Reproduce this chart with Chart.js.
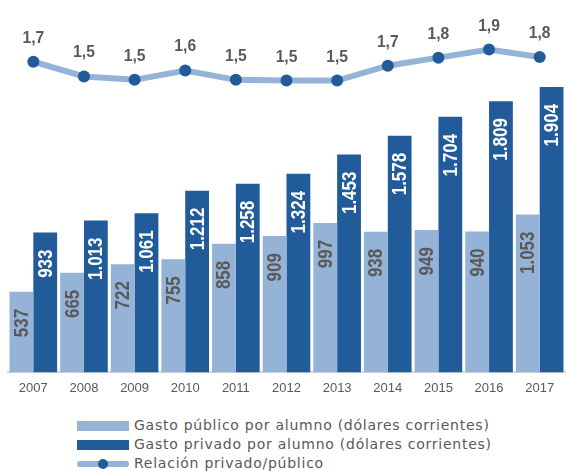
<!DOCTYPE html>
<html>
<head>
<meta charset="utf-8">
<script src="https://cdn.jsdelivr.net/npm/chart.js@4/dist/chart.umd.min.js"></script>
<style>
  html, body { margin: 0; padding: 0; background: #fff; overflow: hidden; width: 567px; height: 471px; }
  #wrap { position: absolute; left: 0; top: 0; width: 571px; height: 403px; }
  .legend { position: absolute; left: 77px; top: 416px; font-family: 'DejaVu Sans', sans-serif; font-size: 14px; letter-spacing: 0.75px; color: #595959; }
  .row { position: relative; height: 19px; line-height: 19px; white-space: nowrap; }
  .sw { position: absolute; left: 0; width: 52px; }
  .txt { position: absolute; left: 57px; top: 0; }
</style>
</head>
<body>
<div id="wrap"><canvas id="chart" width="571" height="403"></canvas></div>
<div class="legend">
  <div class="row"><div class="sw" style="top:5px;height:10px;background:#95b3d7"></div><span class="txt">Gasto público por alumno (dólares corrientes)</span></div>
  <div class="row"><div class="sw" style="top:5px;height:10px;background:#225b99"></div><span class="txt">Gasto privado por alumno (dólares corrientes)</span></div>
  <div class="row"><div class="sw" style="top:7px;height:6px;background:#95b3d7;border-radius:3px"></div><div style="position:absolute;left:21px;top:5px;width:10px;height:10px;border-radius:5px;background:#225b99"></div><span class="txt">Relación privado/público</span></div>
</div>
<script>
const years = ['2007', '2008', '2009', '2010', '2011', '2012', '2013', '2014', '2015', '2016', '2017'];
const gastoPublico = [537, 665, 722, 755, 858, 909, 997, 938, 949, 940, 1053];
const gastoPrivado = [933, 1013, 1061, 1212, 1258, 1324, 1453, 1578, 1704, 1809, 1904];
const relacion = [1.74, 1.52, 1.47, 1.61, 1.47, 1.46, 1.46, 1.68, 1.80, 1.92, 1.81];

const LIGHT = '#95b3d7';
const DARK = '#225b99';
const GREY = '#595959';

function fmtMiles(v) {
    if (v < 1000) return String(v);
    const r = String(v % 1000).padStart(3, '0');
    return Math.floor(v / 1000) + '.' + r;
}

const labelPlugin = {
    id: 'labels',
    afterDatasetsDraw(chart) {
        const ctx = chart.ctx;
        [0, 1].forEach(i => {
            const meta = chart.getDatasetMeta(i);
            const vals = chart.data.datasets[i].data;
            meta.data.forEach((bar, j) => {
                ctx.save();
                ctx.translate(bar.x, bar.y + 17);
                ctx.rotate(-Math.PI / 2);
                ctx.scale(0.85, 1);
                ctx.font = 'bold 20px "Liberation Sans", Arial, sans-serif';
                ctx.fillStyle = i === 0 ? GREY : '#ffffff';
                ctx.textAlign = 'right';
                ctx.textBaseline = 'middle';
                ctx.fillText(fmtMiles(vals[j]), 0, 1);
                ctx.restore();
            });
        });
        const lm = chart.getDatasetMeta(2);
        lm.data.forEach((pt, j) => {
            ctx.save();
            ctx.translate(pt.x, pt.y - 19);
            ctx.scale(0.92, 1);
            ctx.font = 'bold 17px "Liberation Sans", Arial, sans-serif';
            ctx.fillStyle = GREY;
            ctx.textAlign = 'center';
            ctx.textBaseline = 'alphabetic';
            ctx.fillText(relacion[j].toFixed(1).replace('.', ','), 0, 0);
            ctx.restore();
        });
    }
};

new Chart(document.getElementById('chart'), {
    type: 'bar',
    data: {
        labels: years,
        datasets: [
            {
                label: 'Gasto público por alumno (dólares corrientes)',
                data: gastoPublico,
                backgroundColor: LIGHT,
                yAxisID: 'y',
                categoryPercentage: 0.94,
                barPercentage: 1,
                order: 2
            },
            {
                label: 'Gasto privado por alumno (dólares corrientes)',
                data: gastoPrivado,
                backgroundColor: DARK,
                yAxisID: 'y',
                categoryPercentage: 0.94,
                barPercentage: 1,
                order: 2
            },
            {
                type: 'line',
                label: 'Relación privado/público',
                data: relacion,
                borderColor: LIGHT,
                borderWidth: 6,
                tension: 0,
                pointRadius: 6,
                pointBackgroundColor: DARK,
                pointBorderWidth: 0,
                yAxisID: 'y2',
                order: 0
            }
        ]
    },
    options: {
        responsive: false,
        animation: false,
        layout: { padding: { left: 8, right: 0, top: 20, bottom: 7 } },
        plugins: {
            legend: { display: false },
            tooltip: { enabled: false }
        },
        scales: {
            x: {
                grid: { display: false },
                border: { color: '#d9d9d9', width: 2 },
                ticks: { color: GREY, font: { family: '"Liberation Sans", Arial, sans-serif', size: 13 }, padding: 0 }
            },
            y: { display: false, min: 0, max: 2350 },
            y2: { display: false, min: -2.88, max: 2.36 }
        }
    },
    plugins: [labelPlugin]
});
</script>
</body>
</html>
